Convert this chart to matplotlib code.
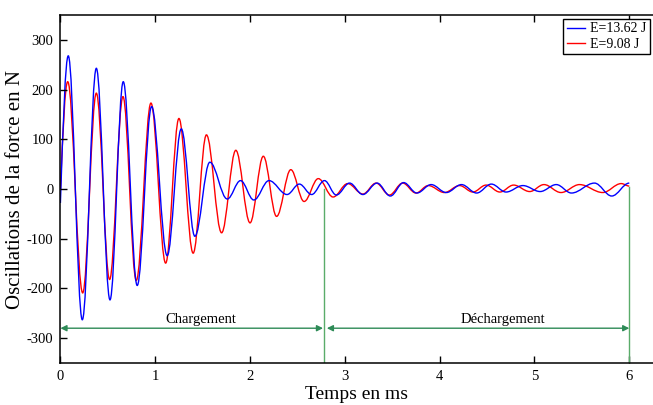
import matplotlib
matplotlib.use("Agg")
import matplotlib.pyplot as plt
from matplotlib.path import Path
from matplotlib.patches import PathPatch
from matplotlib.lines import Line2D

plt.rcParams['font.family'] = ['Liberation Serif', 'DejaVu Serif']
plt.rcParams['axes.unicode_minus'] = False

# extrema of the force oscillations (time in ms, force in N)
t_blue = [0.0, 0.083, 0.231, 0.379, 0.523, 0.663, 0.81, 0.962, 1.126, 1.275,
          1.418, 1.576, 1.76, 1.90, 2.04, 2.20, 2.39, 2.52, 2.65, 2.785,
          2.91, 3.05, 3.19, 3.34, 3.48, 3.62, 3.76, 3.91, 4.07, 4.23,
          4.39, 4.545, 4.70, 4.878, 5.06, 5.23, 5.39, 5.633, 5.815, 6.0]
f_blue = [-28, 268, -263, 243, -223, 216, -194, 166, -134, 121,
          -95, 54, -20, 17, -22, 17, -11, 10, -11, 17,
          -12, 12, -11, 12, -14, 13, -8, 9, -7, 9,
          -8, 10, -6, 7, -5, 9, -8, 12, -14, 12]

t_red = [0.0, 0.077, 0.235, 0.379, 0.519, 0.66, 0.80, 0.955, 1.11, 1.25,
         1.40, 1.54, 1.70, 1.85, 2.00, 2.14, 2.28, 2.43, 2.57, 2.72,
         2.876, 3.03, 3.19, 3.33, 3.47, 3.61, 3.75, 3.88, 4.05, 4.21,
         4.35, 4.49, 4.635, 4.78, 4.95, 5.10, 5.28, 5.475, 5.72, 5.915, 6.0]
f_red = [0, 216, -209, 193, -182, 186, -184, 173, -149, 142,
         -129, 109, -88, 78, -68, 66, -55, 39, -25, 21,
         -16, 11, -10, 12, -12, 12, -8, 7, -7, 7,
         -6, 8, -6, 8, -5, 9, -7, 9, -7, 11, 6]

labels = ['E=13.62 J', 'E=9.08 J']
colors = ['#0000ff', '#ff0000']

t_charge_end = 2.78
t_decharge_end = 6.0


def smooth_path(t, f):
    # cubic bezier segments with flat tangents at each extremum
    k = 0.364
    verts = [(t[0], f[0])]
    codes = [Path.MOVETO]
    for i in range(len(t) - 1):
        dt = t[i + 1] - t[i]
        if i == 0:
            c1 = (t[i] + dt / 3, f[i] + 0.52 * (f[i + 1] - f[i]))
        else:
            c1 = (t[i] + k * dt, f[i])
        c2 = (t[i + 1] - k * dt, f[i + 1])
        verts += [c1, c2, (t[i + 1], f[i + 1])]
        codes += [Path.CURVE4] * 3
    return Path(verts, codes)


fig = plt.figure(figsize=(6.53, 4.05), dpi=100)
ax = fig.add_axes([0.0925, 0.1037, 0.9075, 0.859])

for t, f, c in [(t_red, f_red, colors[1]), (t_blue, f_blue, colors[0])]:
    ax.add_patch(PathPatch(smooth_path(t, f), facecolor='none', edgecolor=c, lw=1.0))

# phase markers
ax.plot([t_charge_end, t_charge_end], [-350, 0], color='#5aac6a', lw=1.0)
ax.plot([t_decharge_end, t_decharge_end], [-350, 5], color='#5aac6a', lw=1.0)
ax.annotate('', xy=(0.0, -280), xytext=(t_charge_end - 0.01, -280),
            arrowprops=dict(arrowstyle='<|-|>', color='#2e8b57', lw=1.0, mutation_scale=9,
                            shrinkA=0, shrinkB=0))
ax.annotate('', xy=(t_charge_end + 0.03, -280), xytext=(t_decharge_end, -280),
            arrowprops=dict(arrowstyle='<|-|>', color='#2e8b57', lw=1.0, mutation_scale=9,
                            shrinkA=0, shrinkB=0))
ax.text(1.48, -262, 'Chargement', ha='center', va='center', fontsize=10.5)
ax.text(4.67, -262, 'Déchargement', ha='center', va='center', fontsize=10.5)

ax.set_xlim(0, 6.25)
ax.set_ylim(-350, 350)
ax.set_xticks(range(0, 7))
ax.set_yticks(range(-300, 301, 100))
ax.tick_params(direction='in', length=5, labelsize=10.5, pad=5, top=True, width=1.0)
ax.spines['right'].set_visible(False)
for s in ['left', 'bottom', 'top']:
    ax.spines[s].set_linewidth(1.1)
ax.set_xlabel('Temps en ms', fontsize=14, labelpad=2)
ax.set_ylabel('Oscillations de la force en N', fontsize=15)
ax.yaxis.set_label_coords(-0.06, 0.5)

handles = [Line2D([], [], color=c, lw=1.0) for c in colors]
ax.legend(handles, labels, loc='upper right', bbox_to_anchor=(650 / 653, 1 - 19 / 405),
          bbox_transform=fig.transFigure, fontsize=10, frameon=True, fancybox=False,
          edgecolor='black', framealpha=1, borderaxespad=0, borderpad=0.25,
          labelspacing=0.15, handlelength=1.3, handletextpad=0.4)

fig.savefig('out.png', dpi=100)
